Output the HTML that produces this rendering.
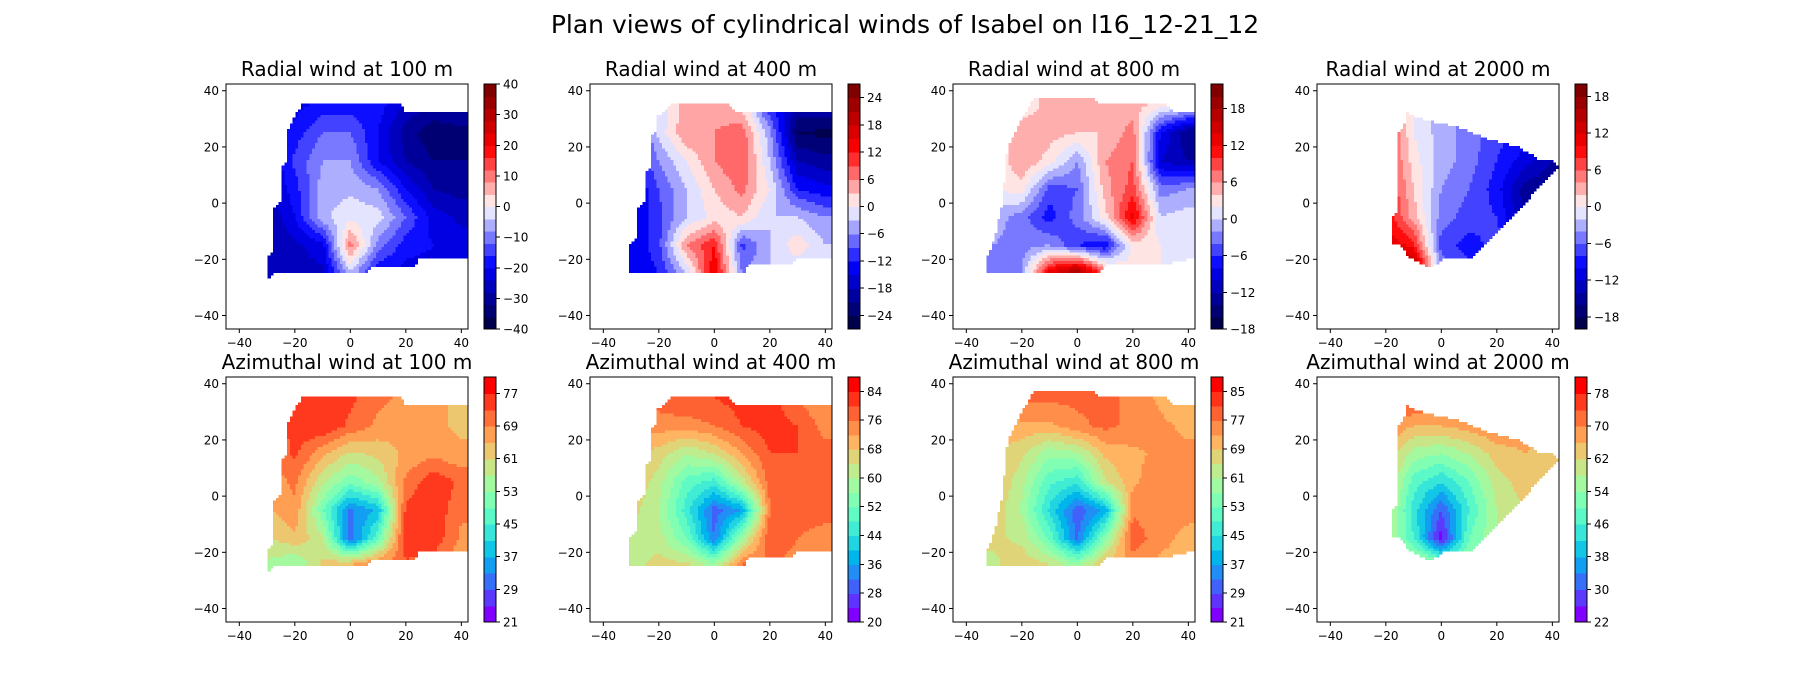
<!DOCTYPE html>
<html><head><meta charset="utf-8">
<style>
html,body{margin:0;padding:0;background:#fff;}
svg{display:block;font-family:"DejaVu Sans","Liberation Sans",sans-serif;}
</style></head>
<body>
<svg id="fig" width="1800" height="700" viewBox="0 0 1800 700" xmlns="http://www.w3.org/2000/svg">
<rect width="1800" height="700" fill="#fff"/>
<text x="905" y="33" font-size="25" text-anchor="middle">Plan views of cylindrical winds of Isabel on l16_12-21_12</text>
</svg>
<script>
// ---- data grids: x = -30..40 step 10, y = 35..-25 step 10 ----
const gridX = [-30,-20,-10,0,10,20,30,40];
const gridY = [35,25,15,5,-5,-15,-25];
const panelTitles = ["Radial wind at 100 m","Radial wind at 400 m","Radial wind at 800 m","Radial wind at 2000 m",
  "Azimuthal wind at 100 m","Azimuthal wind at 400 m","Azimuthal wind at 800 m","Azimuthal wind at 2000 m"];
const radial100 = [
 [-25,-22,-18,-18,-18,-25,-28,-28],
 [-25,-18,-12,-12,-20,-30,-35,-33],
 [-25,-15,-8,-8,-20,-28,-32,-32],
 [-25,-18,-6,-5,-8,-20,-28,-30],
 [-28,-20,-5,-1,-2,-12,-22,-25],
 [-28,-25,-22,10,-10,-18,-20,-22],
 [-25,-25,-25,-5,-20,-22,-22,-22]];
const radial400 = [
 [-12,-3,5,5,2,-12,-18,-18],
 [-15,-2,6,6,8,-5,-24,-25],
 [-15,-6,0,6,9,-3,-18,-20],
 [-16,-9,-3,3,7,0,-12,-14],
 [-16,-10,-3,1,3,-3,-3,-6],
 [-15,-10,6,12,-10,-3,2,-3],
 [-15,-12,-3,15,-6,-3,-3,-3]];
const radial800 = [
 [0,2,5,5,4,5,3,2],
 [1,6,5,4,4,7,-8,-14],
 [2,6,3,-2,6,8,-10,-12],
 [2,3,-5,-4,5,9,-3,-2],
 [-1,-3,-7,-3,3,13,0,1],
 [-2,-3,-2,-6,-8,3,2,1],
 [-4,-2,14,20,8,2,2,2]];
const radial2000 = [
 [8,8,0,-3,-5,-7,-9,-10],
 [8,8,0,-3,-5,-7,-9,-11],
 [8,8,1,-3,-5,-8,-11,-14],
 [9,9,2,-4,-6,-9,-15,-16],
 [10,10,3,-5,-7,-8,-14,-16],
 [12,12,9,-7,-9,-7,-12,-14],
 [16,16,18,-4,-7,-7,-10,-12]];
const azim100 = [
 [65,72,76,74,70,68,66,64],
 [68,75,77,72,68,66,66,64],
 [68,74,66,60,62,66,68,66],
 [66,70,58,50,56,70,76,72],
 [64,68,50,32,38,74,76,70],
 [60,64,58,30,48,76,76,68],
 [56,52,62,68,72,72,70,66]];
const azim400 = [
 [72,78,80,80,82,82,76,72],
 [72,74,74,76,80,82,80,74],
 [70,66,60,64,72,80,80,78],
 [68,62,50,46,62,78,80,80],
 [66,60,46,30,36,76,78,78],
 [62,62,52,32,58,80,76,74],
 [62,66,66,60,78,76,74,72]];
const azim800 = [
 [70,78,78,78,78,76,72,68],
 [70,72,72,76,78,76,74,72],
 [70,66,58,60,70,72,74,74],
 [70,62,50,46,64,72,76,76],
 [68,60,44,30,38,76,74,74],
 [66,64,52,32,56,80,74,72],
 [64,68,66,60,72,74,72,72]];
const azim2000 = [
 [72,74,76,76,74,72,70,68],
 [70,70,66,66,68,70,68,66],
 [68,66,56,54,58,64,66,64],
 [66,64,48,42,50,60,64,62],
 [64,62,44,30,46,58,62,62],
 [62,60,46,24,50,58,60,60],
 [62,62,62,56,56,58,60,60]];
const panelData = [radial100,radial400,radial800,radial2000,azim100,azim400,azim800,azim2000];
// contour level specs: [min, max, step]
const levelSpecs = [[-40,40,4],[-27,27,3],[-18,22,2],[-20,20,2],[21,81,4],[20,88,4],[21,89,4],[22,82,4]];
const cbarTicks = [
 [-40,-30,-20,-10,0,10,20,30,40],[-24,-18,-12,-6,0,6,12,18,24],[-18,-12,-6,0,6,12,18],[-18,-12,-6,0,6,12,18],
 [21,29,37,45,53,61,69,77],[20,28,36,44,52,60,68,76,84],[21,29,37,45,53,61,69,77,85],[22,30,38,46,54,62,70,78]];
const axisTicks = [-40,-20,0,20,40];
// data-domain masks per column (same for both rows)
const masks = [
 [[-17.5,35.1],[18,35.1],[20,32.5],[42.4,32.5],[42.4,-18.8],[40.7,-19.9],[24.5,-19.9],[22.8,-22.5],[7.3,-22.5],[5.5,-24.9],[-27.2,-24.9],[-30,-27.3],[-30,-19.9],[-27.9,-17.5],[-27.9,-2.4],[-25,0.6],[-25,13],[-22.8,15.2],[-22.8,25.3],[-20,31]],
 [[-15.6,35.1],[5.5,35.1],[7.8,32.5],[42.4,32.5],[42.4,-19.6],[29.7,-19.6],[28,-22],[12.5,-22],[10.2,-24.8],[-30.5,-24.8],[-30.5,-14.3],[-28,-11.9],[-28,-1.8],[-25,0.6],[-25,10.1],[-23,12.5],[-23,23.2],[-20.3,26.2],[-20.3,31]],
 [[-15.3,37.5],[5.5,37.5],[7.8,35.1],[32,35.1],[34.4,32.5],[42.4,32.5],[42.4,-19.6],[28.9,-22],[10.2,-22],[7,-24.8],[-32.8,-24.8],[-32.8,-20.2],[-29.7,-11.9],[-27,0],[-25,20],[-20,30]],
 [[-12.9,32.4],[-12.3,29.1],[-15.3,25.5],[-15.6,-3],[-18.1,-4.8],[-18.1,-14.6],[-15.3,-14.8],[-11.1,-19.6],[-5.7,-22.3],[-2.7,-22.3],[0.4,-19.8],[10.6,-19.8],[42.3,12.8],[39.9,15.2],[35.3,15.4],[26.9,20.4],[17.2,22.6],[5.2,27.3],[-3.9,29.1],[-10,31]]];

const colLeft = [226,590,953,1317], rowTop = [84,377];
const AW = 242, AH = 245, DMIN = -44.8, DMAX = 42.4;
const NS = "http://www.w3.org/2000/svg";
const svg = document.getElementById('fig');

function lerpMap(stops, t){
  t = Math.max(0, Math.min(1, t));
  for (let i=1;i<stops.length;i++){
    if (t <= stops[i][0]){
      const a=stops[i-1], b=stops[i], f=(t-a[0])/(b[0]-a[0]||1);
      return [a[1]+(b[1]-a[1])*f, a[2]+(b[2]-a[2])*f, a[3]+(b[3]-a[3])*f];
    }
  }
  const s=stops[stops.length-1]; return [s[1],s[2],s[3]];
}
function seismic(t){ return lerpMap([[0,0,0,0.3],[0.25,0,0,1],[0.5,1,1,1],[0.75,1,0,0],[1,0.5,0,0]], t); }
function rainbow(t){ return [Math.min(1,Math.abs(2*t-0.5)), Math.sin(Math.PI*t), Math.cos(Math.PI*t/2)]; }
function rgb(c){ return 'rgb('+c.map(v=>Math.round(Math.max(0,Math.min(1,v))*255)).join(',')+')'; }

function interp(grid, x, y){
  let cx = Math.max(gridX[0], Math.min(gridX[gridX.length-1], x));
  let cy = Math.max(gridY[gridY.length-1], Math.min(gridY[0], y));
  let i = Math.min(gridX.length-2, Math.floor((cx-gridX[0])/10));
  let j = Math.min(gridY.length-2, Math.floor((gridY[0]-cy)/10));
  const fx = (cx-gridX[i])/10, fy = (gridY[j]-cy)/10;
  const a=grid[j][i], b=grid[j][i+1], c=grid[j+1][i], d=grid[j+1][i+1];
  return a*(1-fx)*(1-fy)+b*fx*(1-fy)+c*(1-fx)*fy+d*fx*fy;
}
function inPoly(poly, x, y){
  let ins=false;
  for (let i=0,j=poly.length-1;i<poly.length;j=i++){
    const xi=poly[i][0], yi=poly[i][1], xj=poly[j][0], yj=poly[j][1];
    if (((yi>y)!=(yj>y)) && (x < (xj-xi)*(y-yi)/(yj-yi)+xi)) ins=!ins;
  }
  return ins;
}
function mk(tag, attrs, parent){
  const e=document.createElementNS(NS, tag);
  for (const k in attrs) e.setAttribute(k, attrs[k]);
  (parent||svg).appendChild(e); return e;
}
function fmt(v){ return v<0 ? '\u2212'+Math.abs(v) : ''+v; }

for (let p=0;p<8;p++){
  const col=p%4, row=Math.floor(p/4);
  const L=colLeft[col], T=rowTop[row];
  const sx = v => L + (v-DMIN)/(DMAX-DMIN)*AW;
  const sy = v => T + (DMAX-v)/(DMAX-DMIN)*AH;
  const spec=levelSpecs[p], levels=[];
  for (let v=spec[0]; v<=spec[1]+1e-9; v+=spec[2]) levels.push(v);
  const cmap = p<4 ? seismic : rainbow;
  const bandColor = k => cmap(k/(levels.length-2));
  const g = mk('g', {});
  
  
  const t = mk('text', {x: L+AW/2, y: T-8, 'font-size': 20, 'text-anchor':'middle'}, g);
  t.textContent = panelTitles[p];
  
  
  const fill = mk('g', {'shape-rendering':'crispEdges'}, g);
  
  
  const step = 1.0;
  for (let y=DMAX; y>DMIN; y-=step){
    const yc = y-step/2;
    let runStart=null, runBand=-1;
    const flush = (xEnd)=>{
      if (runStart===null) return;
      const r = mk('rect', {x: sx(runStart).toFixed(2), y: sy(y).toFixed(2), width: (sx(xEnd)-sx(runStart)+0.5).toFixed(2), height: (sy(y-step)-sy(y)+0.5).toFixed(2), fill: rgb(bandColor(runBand))}, fill);
      
      
      runStart=null; runBand=-1;
    };
    for (let x=DMIN; x<DMAX; x+=step){
      const xc = x+step/2;
      let band=-1;
      if (inPoly(masks[col], xc, yc)){
        const v = interp(panelData[p], xc, yc);
        band = Math.max(0, Math.min(levels.length-2, Math.floor((v-levels[0])/spec[2])));
      }
      if (band!==runBand){ flush(x); if (band>=0){ runStart=x; runBand=band; } }
    }
    flush(DMAX);
  }
  const fr = mk('rect', {x:L, y:T, width:AW, height:AH, fill:'none', stroke:'#000', 'stroke-width':1}, g);
  
  
  for (const tv of axisTicks){
    const X=sx(tv), Y=sy(tv);
    mk('line', {x1:X, x2:X, y1:T+AH, y2:T+AH+4, stroke:'#000'}, g);
    const xl = mk('text', {x:X, y:T+AH+18, 'font-size':12, 'text-anchor':'middle'}, g);
    xl.textContent = fmt(tv);
    
    
    mk('line', {x1:L-4, x2:L, y1:Y, y2:Y, stroke:'#000'}, g);
    const yl = mk('text', {x:L-7, y:Y+4.5, 'font-size':12, 'text-anchor':'end'}, g);
    yl.textContent = fmt(tv);
    
    
  }
  const CX = L+AW+16, CW = 12;
  const cb = mk('g', {'shape-rendering':'crispEdges'}, g);
  
  
  const lv0=levels[0], lvN=levels[levels.length-1];
  const cy = v => T + (lvN-v)/(lvN-lv0)*AH;
  for (let k=0;k<levels.length-1;k++){
    const r = mk('rect', {x:CX, y:cy(levels[k+1]).toFixed(2), width:CW, height:(cy(levels[k])-cy(levels[k+1])+0.6).toFixed(2), fill:rgb(bandColor(k))}, cb);
    
    
  }
  mk('rect', {x:CX, y:T, width:CW, height:AH, fill:'none', stroke:'#000', 'stroke-width':1}, cb);
  for (const tv of cbarTicks[p]){
    const Y=cy(tv);
    mk('line', {x1:CX+CW, x2:CX+CW+4, y1:Y, y2:Y, stroke:'#000'}, cb);
    const tl = mk('text', {x:CX+CW+7, y:Y+4.5, 'font-size':12}, cb);
    tl.textContent = fmt(tv);
    
    
  }
}
</script>
</body></html>
